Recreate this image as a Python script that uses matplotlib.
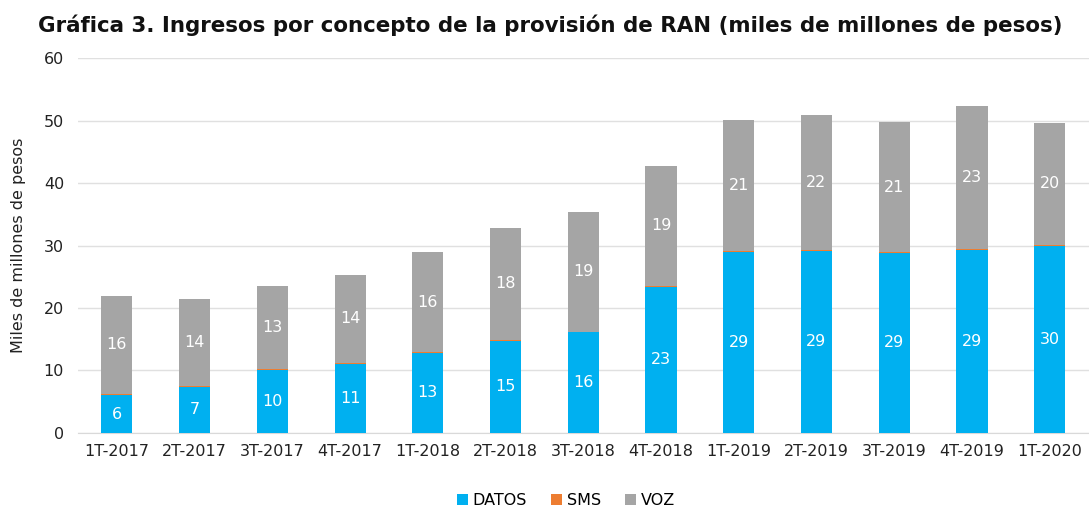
import matplotlib
matplotlib.use("Agg")
import matplotlib.pyplot as plt
import numpy as np

categories = ["1T-2017", "2T-2017", "3T-2017", "4T-2017", "1T-2018", "2T-2018", "3T-2018",
              "4T-2018", "1T-2019", "2T-2019", "3T-2019", "4T-2019", "1T-2020"]
datos = [6.0, 7.4, 10.1, 11.0, 12.8, 14.7, 16.1, 23.4, 29.0, 29.2, 28.8, 29.3, 30.0]
sms = [0.2, 0.1, 0.2, 0.2, 0.1, 0.2, 0.1, 0.1, 0.1, 0.1, 0.1, 0.1, 0.1]
voz = [15.8, 13.9, 13.2, 14.1, 16.0, 17.9, 19.2, 19.3, 21.0, 21.7, 20.9, 22.9, 19.6]
yticks = [0, 10, 20, 30, 40, 50, 60]

c_datos = "#00B0F0"
c_sms = "#ED7D31"
c_voz = "#A5A5A5"

fig = plt.figure(figsize=(10.89, 5.08), dpi=100)
ax = fig.add_axes([0.0716, 0.148, 0.928, 0.737])

x = np.arange(len(categories))
w = 0.4
datos_a = np.array(datos)
sms_a = np.array(sms)
voz_a = np.array(voz)
ax.bar(x, datos_a, w, color=c_datos, label="DATOS", zorder=3)
ax.bar(x, sms_a, w, bottom=datos_a, color=c_sms, label="SMS", zorder=3)
ax.bar(x, voz_a, w, bottom=datos_a + sms_a, color=c_voz, label="VOZ", zorder=3)

for i in range(len(x)):
    ax.text(x[i], datos_a[i] / 2, f"{datos_a[i]:.0f}", ha="center", va="center",
            color="white", fontsize=11.5, zorder=4)
    ax.text(x[i], datos_a[i] + sms_a[i] + voz_a[i] / 2, f"{voz_a[i]:.0f}", ha="center",
            va="center", color="white", fontsize=11.5, zorder=4)

ax.set_xlim(-0.5, 12.5)
ax.set_ylim(0, 60)
ax.set_yticks(yticks)
ax.set_xticks(x)
ax.set_xticklabels(categories)
ax.tick_params(axis="both", length=0, labelsize=11.5, colors="#222222")
ax.tick_params(axis="x", pad=8)
ax.tick_params(axis="y", pad=10)
ax.grid(axis="y", color="#E0E0E0", linewidth=1, zorder=0)
for s in ["top", "right", "left"]:
    ax.spines[s].set_visible(False)
ax.spines["bottom"].set_color("#D9D9D9")
ax.set_ylabel("Miles de millones de pesos", fontsize=11.5, labelpad=13, color="#222222")

fig.text(0.505, 0.951, "Gráfica 3. Ingresos por concepto de la provisión de RAN (miles de millones de pesos)",
         ha="center", va="center", fontsize=15.4, fontweight="bold", color="#111111")

ax.legend(loc="center", bbox_to_anchor=(0.483, -0.18), ncol=3, frameon=False,
          fontsize=11.5, handlelength=0.7, handleheight=0.7, columnspacing=1.5, handletextpad=0.3)

fig.savefig("out.png", dpi=100)
